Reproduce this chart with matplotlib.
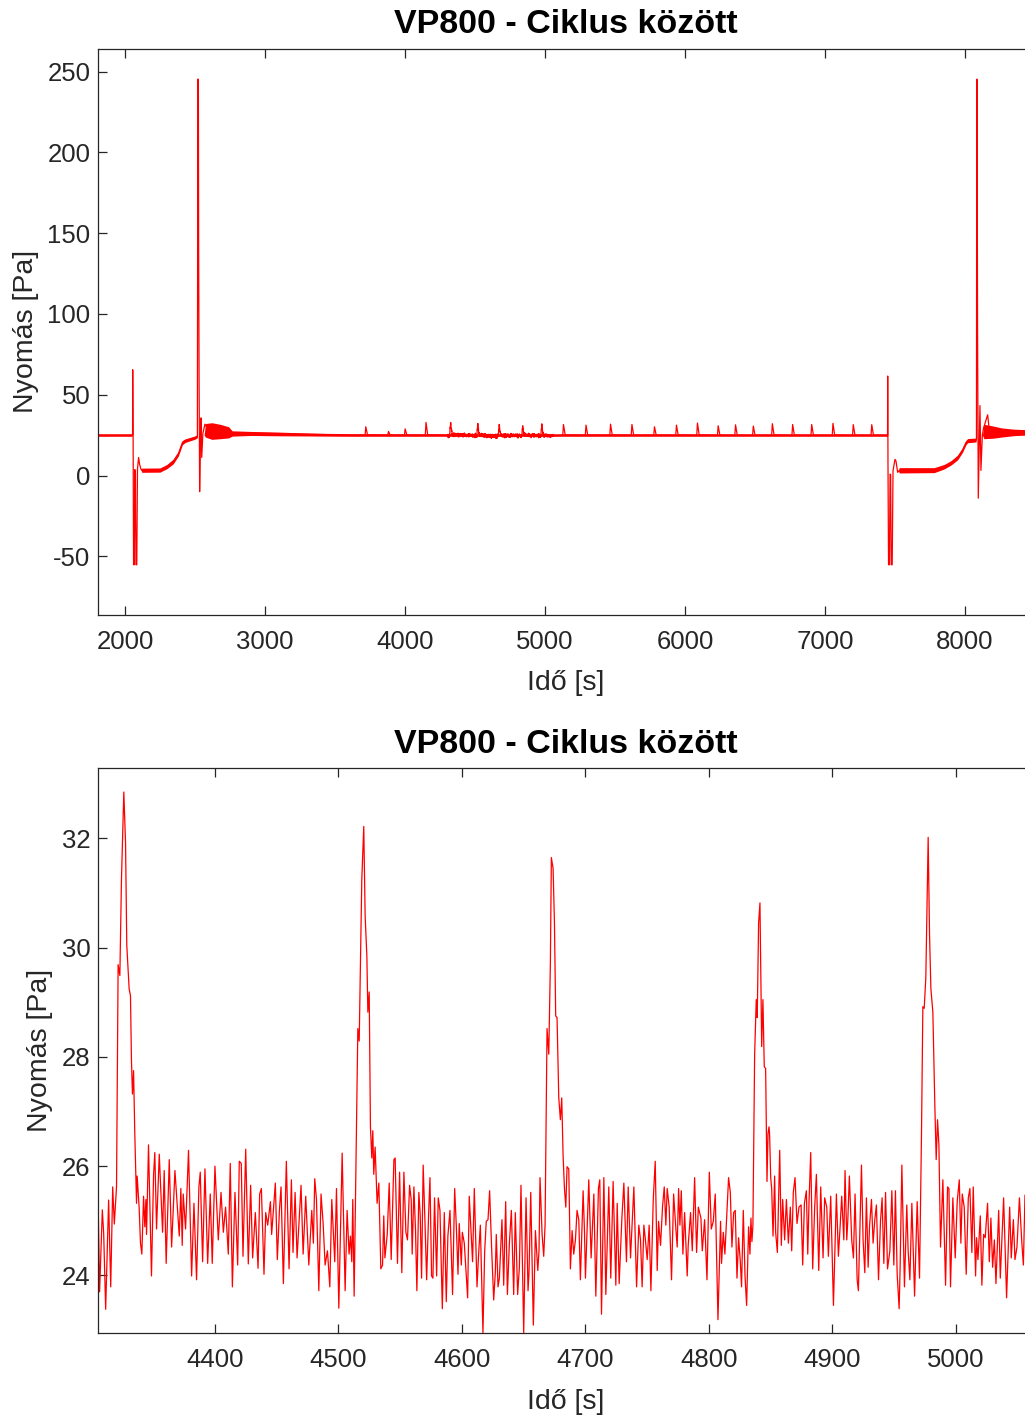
import numpy as np
import matplotlib
matplotlib.use('Agg')
import matplotlib.pyplot as plt

# --- Zoomed window 4305-5063 s: pressure samples (s, Pa) ---
zoom_t = [
    4305.3, 4306.6, 4308.8, 4309.9, 4311.5, 4313.9, 4315.6, 4317.2, 4318.5, 4320.3,
    4321.6, 4323.0, 4324.3, 4326.2, 4327.6, 4328.6, 4330.5, 4331.6, 4332.4, 4333.2,
    4334.1, 4335.1, 4336.5, 4337.0, 4338.6, 4339.7, 4340.8, 4342.2, 4343.2, 4344.1,
    4344.6, 4346.2, 4348.6, 4350.3, 4351.3, 4352.7, 4354.9, 4357.6, 4358.9, 4360.5,
    4363.0, 4364.9, 4367.6, 4371.1, 4372.4, 4373.5, 4374.3, 4376.2, 4378.6, 4381.1,
    4383.0, 4385.1, 4387.0, 4388.1, 4390.0, 4391.9, 4394.1, 4396.2, 4397.8, 4400.0,
    4402.7, 4404.9, 4406.8, 4408.6, 4410.8, 4412.4, 4414.1, 4416.2, 4418.4, 4419.7,
    4421.3, 4422.7, 4424.9, 4427.0, 4428.9, 4430.5, 4432.7, 4434.9, 4436.2, 4437.6,
    4439.7, 4441.1, 4442.7, 4444.9, 4445.9, 4447.6, 4448.9, 4450.5, 4452.2, 4453.5,
    4455.4, 4457.8, 4460.0, 4461.9, 4463.2, 4464.9, 4466.5, 4469.7, 4471.4, 4473.5,
    4476.0, 4478.4, 4479.7, 4480.8, 4482.2, 4484.1, 4485.9, 4487.6, 4489.2, 4491.1,
    4493.0, 4494.6, 4497.0, 4498.4, 4500.3, 4503.0, 4505.4, 4507.0, 4508.6, 4509.7,
    4510.8, 4511.6, 4512.7, 4515.7, 4516.8, 4518.9, 4520.5, 4521.6, 4523.0, 4523.8,
    4524.9, 4525.9, 4527.0, 4527.8, 4528.6, 4529.7, 4530.5, 4531.3, 4532.7, 4534.3,
    4535.7, 4536.7, 4537.6, 4539.5, 4541.1, 4542.7, 4544.9, 4545.9, 4547.8, 4549.5,
    4551.3, 4553.0, 4554.6, 4555.9, 4557.6, 4558.9, 4559.7, 4561.1, 4562.4, 4563.5,
    4565.1, 4566.2, 4567.3, 4568.6, 4570.0, 4571.4, 4573.0, 4574.1, 4575.4, 4576.5,
    4577.8, 4579.5, 4580.8, 4582.2, 4584.1, 4585.7, 4587.3, 4588.6, 4590.3, 4591.4,
    4592.4, 4594.1, 4595.4, 4596.8, 4597.8, 4599.5, 4600.3, 4601.9, 4604.6, 4605.9,
    4608.6, 4610.0, 4612.2, 4613.5, 4614.9, 4617.0, 4618.4, 4619.7, 4621.1, 4622.4,
    4624.1, 4625.7, 4627.0, 4627.8, 4629.2, 4630.3, 4632.4, 4633.8, 4635.4, 4636.8,
    4638.4, 4640.0, 4641.9, 4643.2, 4645.1, 4646.5, 4647.8, 4650.0, 4651.9, 4653.5,
    4654.3, 4655.7, 4657.8, 4659.5, 4661.4, 4662.4, 4663.2, 4664.9, 4666.2, 4667.3,
    4668.9, 4670.3, 4671.6, 4672.4, 4673.8, 4674.9, 4675.9, 4677.0, 4678.4, 4679.7,
    4680.8, 4681.9, 4683.0, 4684.1, 4685.1, 4686.5, 4687.8, 4689.2, 4690.5, 4691.9,
    4693.2, 4694.6, 4695.9, 4698.1, 4699.2, 4700.0, 4702.7, 4704.6, 4706.8, 4708.4,
    4710.5, 4711.6, 4713.0, 4714.9, 4716.5, 4718.9, 4720.5, 4722.4, 4724.6, 4725.7,
    4727.3, 4729.5, 4731.1, 4733.2, 4734.6, 4736.5, 4739.2, 4741.4, 4743.2, 4744.6,
    4745.9, 4747.3, 4748.4, 4750.0, 4751.6, 4753.0, 4754.9, 4756.5, 4758.1, 4759.2,
    4760.8, 4762.4, 4763.8, 4765.1, 4766.2, 4767.8, 4769.7, 4771.4, 4773.0, 4774.3,
    4775.4, 4776.5, 4777.6, 4778.9, 4780.3, 4782.4, 4783.2, 4785.1, 4786.5, 4788.4,
    4790.0, 4791.4, 4793.5, 4794.6, 4796.5, 4798.4, 4800.3, 4801.9, 4803.5, 4805.1,
    4807.3, 4809.4, 4810.2, 4811.6, 4812.9, 4815.9, 4817.3, 4818.6, 4820.0, 4821.3,
    4822.7, 4824.0, 4825.4, 4826.4, 4827.8, 4829.2, 4830.5, 4832.1, 4833.2, 4834.0,
    4834.8, 4835.6, 4837.0, 4838.3, 4839.1, 4840.2, 4841.3, 4842.7, 4843.7, 4844.8,
    4845.9, 4847.0, 4847.8, 4848.6, 4849.1, 4850.0, 4850.8, 4851.9, 4853.2, 4854.0,
    4855.4, 4857.3, 4858.6, 4859.7, 4861.3, 4862.7, 4864.3, 4865.9, 4867.0, 4868.3,
    4869.7, 4871.3, 4872.9, 4874.6, 4875.9, 4877.3, 4878.9, 4880.0, 4881.0, 4882.4,
    4884.0, 4885.6, 4887.0, 4888.9, 4890.5, 4892.4, 4893.7, 4895.4, 4896.7, 4898.6,
    4900.8, 4903.2, 4904.8, 4906.2, 4907.5, 4909.2, 4910.2, 4911.6, 4912.4, 4913.7,
    4915.6, 4917.0, 4918.3, 4920.0, 4921.0, 4923.5, 4924.8, 4926.2, 4927.5, 4928.9,
    4930.0, 4931.6, 4932.9, 4934.3, 4935.6, 4937.3, 4938.9, 4940.2, 4941.6, 4943.0,
    4944.6, 4946.5, 4948.1, 4949.7, 4951.0, 4952.4, 4954.0, 4954.8, 4956.2, 4958.3,
    4960.2, 4961.3, 4962.7, 4964.3, 4966.5, 4968.6, 4970.5, 4972.1, 4973.2, 4974.3,
    4975.6, 4976.7, 4977.5, 4978.6, 4979.7, 4981.3, 4982.9, 4984.0, 4985.1, 4986.2,
    4987.5, 4989.4, 4991.6, 4993.2, 4994.3, 4995.6, 4997.5, 4999.4, 5001.0, 5002.7,
    5004.0, 5005.1, 5006.7, 5008.3, 5010.0, 5011.3, 5012.9, 5014.0, 5015.9, 5016.7,
    5017.8, 5019.7, 5021.0, 5022.4, 5023.7, 5025.6, 5027.0, 5028.3, 5029.7, 5031.1,
    5032.4, 5034.6, 5035.9, 5038.6, 5041.0, 5043.5, 5044.8, 5046.5, 5047.8, 5049.4,
    5051.4, 5053.2, 5054.6, 5055.9, 5058.0, 5060.1, 5063.2,
]
zoom_p = [
    25.50, 23.70, 25.20, 24.77, 23.38, 25.38, 23.79, 25.62, 24.94, 25.62,
    29.69, 29.49, 31.25, 32.85, 31.92, 30.05, 29.25, 29.12, 27.92, 27.32,
    27.75, 26.59, 25.32, 25.82, 25.25, 24.59, 24.39, 25.45, 24.89, 25.39,
    24.75, 26.39, 23.99, 25.85, 26.25, 24.85, 26.22, 24.79, 25.92, 24.22,
    26.12, 24.52, 25.92, 24.72, 25.59, 24.55, 25.49, 24.85, 26.29, 23.99,
    25.32, 23.92, 25.62, 25.89, 24.25, 25.95, 24.22, 25.49, 24.22, 26.00,
    24.65, 25.52, 24.79, 25.25, 24.39, 26.05, 23.79, 25.52, 24.19, 26.09,
    26.05, 24.35, 26.31, 24.21, 25.65, 24.32, 25.15, 24.13, 25.49, 25.59,
    24.02, 25.15, 24.92, 25.35, 24.75, 25.29, 25.69, 24.29, 25.19, 25.62,
    23.85, 26.09, 24.12, 25.75, 24.42, 25.52, 24.32, 25.65, 24.39, 25.45,
    24.19, 25.19, 24.59, 25.77, 25.39, 23.72, 25.49, 24.95, 24.19, 24.45,
    23.79, 25.39, 24.25, 25.59, 23.40, 26.24, 23.72, 25.19, 24.39, 24.72,
    24.25, 25.39, 23.62, 28.52, 28.29, 31.25, 32.22, 30.59, 29.85, 28.82,
    29.19, 26.72, 26.15, 26.65, 25.85, 26.35, 25.82, 25.32, 25.69, 24.12,
    24.19, 25.09, 24.32, 24.75, 25.69, 24.29, 26.12, 26.15, 24.22, 25.89,
    24.05, 25.89, 24.79, 24.65, 25.65, 25.39, 24.39, 25.62, 24.82, 23.72,
    25.52, 25.12, 23.95, 26.02, 25.02, 23.92, 25.12, 25.79, 23.99, 23.95,
    25.42, 23.99, 25.42, 25.19, 23.39, 25.15, 23.52, 24.72, 25.19, 24.39,
    23.65, 25.59, 24.92, 24.02, 24.95, 24.19, 24.79, 24.59, 23.59, 25.45,
    24.25, 25.59, 23.79, 24.39, 24.92, 22.95, 24.45, 24.99, 25.02, 25.55,
    24.45, 23.55, 24.05, 24.75, 23.79, 23.95, 25.02, 23.82, 25.35, 23.65,
    24.59, 25.19, 23.65, 25.15, 23.65, 24.15, 25.65, 22.95, 25.42, 23.72,
    24.05, 25.52, 23.09, 24.82, 24.09, 24.45, 25.79, 24.75, 24.35, 24.92,
    28.52, 28.05, 29.72, 31.65, 31.45, 30.45, 28.75, 28.72, 27.25, 26.85,
    27.25, 26.19, 25.59, 25.25, 25.99, 25.95, 24.12, 24.82, 24.39, 24.65,
    25.19, 25.02, 23.92, 25.55, 24.82, 23.95, 25.75, 24.32, 25.49, 23.62,
    25.59, 25.75, 23.29, 25.79, 23.65, 25.62, 23.95, 25.72, 23.82, 25.32,
    23.85, 25.05, 25.69, 24.25, 25.62, 24.32, 25.62, 23.79, 24.92, 24.65,
    23.79, 24.92, 24.69, 24.29, 24.92, 23.72, 25.39, 26.09, 24.09, 24.99,
    24.55, 25.25, 25.62, 24.92, 25.59, 25.25, 23.92, 25.49, 24.92, 24.52,
    25.59, 24.92, 25.55, 24.39, 25.15, 23.99, 24.55, 25.15, 24.45, 25.79,
    24.42, 25.25, 25.05, 24.45, 25.02, 23.92, 25.89, 24.85, 24.99, 25.49,
    23.19, 24.99, 24.22, 24.79, 24.39, 25.79, 25.52, 24.52, 25.15, 25.19,
    23.95, 24.69, 24.25, 23.79, 25.19, 23.99, 23.45, 24.89, 24.39, 25.05,
    24.62, 24.92, 28.05, 29.05, 28.72, 30.45, 30.82, 28.19, 29.05, 27.82,
    27.79, 25.72, 26.59, 26.72, 26.59, 25.79, 25.59, 24.72, 25.82, 24.79,
    24.42, 26.29, 24.55, 25.39, 24.65, 25.39, 24.59, 25.25, 24.45, 25.52,
    25.79, 24.95, 25.25, 25.29, 24.19, 25.32, 25.55, 24.39, 25.32, 26.25,
    24.12, 25.25, 25.85, 24.09, 25.62, 24.32, 25.42, 25.25, 24.35, 25.45,
    23.45, 25.49, 24.35, 24.89, 25.45, 24.65, 25.92, 24.65, 24.99, 25.82,
    24.65, 24.32, 25.49, 23.92, 23.72, 26.02, 24.65, 24.05, 25.42, 24.15,
    24.89, 25.39, 24.59, 25.02, 25.29, 23.92, 24.99, 25.42, 24.22, 25.52,
    24.12, 24.45, 25.55, 24.19, 25.55, 24.02, 23.39, 24.15, 26.02, 23.79,
    25.29, 24.45, 23.92, 25.32, 23.62, 25.35, 23.95, 26.59, 28.92, 28.89,
    29.45, 30.92, 32.02, 30.25, 29.25, 28.82, 27.12, 26.12, 26.85, 26.39,
    24.52, 25.75, 23.82, 25.62, 25.59, 23.79, 25.42, 24.32, 25.35, 25.75,
    24.59, 25.49, 25.25, 24.02, 25.42, 25.59, 24.42, 25.62, 23.99, 24.69,
    24.29, 25.09, 23.82, 24.75, 24.69, 25.32, 24.25, 25.05, 24.15, 24.65,
    23.85, 25.19, 23.95, 25.42, 23.59, 25.25, 24.32, 25.02, 24.29, 24.52,
    25.42, 24.65, 24.19, 25.47, 24.30, 25.30, 24.60,
]

# --- Full record outside the zoomed window: trace key points (s, Pa) ---
pre_t = [
    1807, 2050, 2054, 2055, 2057, 2058, 2061, 2066, 2070, 2074,
    2078, 2084, 2089, 2097, 2104, 2113, 2120, 2250, 2300, 2345,
    2381, 2410, 2430, 2500, 2517, 2520, 2524, 2526, 2529, 2533,
    2538, 2543, 2548, 2556, 2571, 2600, 2700, 2760, 3200, 3500,
    3715, 3720, 3732, 3877, 3882, 3894, 3996, 4001, 4013, 4145,
    4150, 4162, 4300,
]
pre_p = [
    25.0, 25.0, 25.3, 65.5, 30.0, 20.0, -55.2, -55.2, 3.7, 2.5,
    -55.2, -55.2, 4.0, 11.2, 7.0, 4.2, 3.2, 3.3, 5.6, 8.8,
    13.5, 20.4, 21.6, 23.5, 24.3, 245.3, 245.3, 138.0, 60.0, -10.0,
    18.0, 35.7, 11.2, 26.0, 31.8, 27.5, 27.0, 26.4, 25.8, 25.2,
    25.0, 30.2, 25.2, 25.0, 27.3, 25.1, 25.0, 28.9, 25.1, 25.0,
    32.9, 25.2, 25.0,
]
post_t = [
    5127, 5132, 5144, 5288, 5293, 5305, 5463, 5468, 5480, 5616,
    5621, 5633, 5777, 5782, 5794, 5934, 5939, 5951, 6084, 6089,
    6101, 6232, 6237, 6249, 6356, 6361, 6373, 6483, 6488, 6500,
    6619, 6624, 6636, 6764, 6769, 6781, 6900, 6905, 6917, 7052,
    7057, 7069, 7197, 7202, 7214, 7329, 7334, 7346, 7443, 7447,
    7448, 7449, 7450, 7454, 7460, 7465, 7469, 7473, 7480, 7486,
    7500, 7507, 7519, 7530, 7781, 7852, 7900, 7948, 7983, 8007,
    8019, 8067, 8079, 8082, 8084, 8086, 8088, 8090, 8095, 8100,
    8107, 8114, 8124, 8133, 8162, 8175, 8300, 8493,
]
post_p = [
    25.0, 31.6, 25.2, 25.0, 31.2, 25.1, 25.0, 31.8, 25.2, 25.0,
    31.6, 25.1, 25.0, 30.2, 25.1, 25.0, 31.2, 25.2, 25.0, 32.5,
    25.2, 25.0, 30.8, 25.1, 25.0, 31.4, 25.1, 25.0, 30.6, 25.1,
    25.0, 32.1, 25.2, 25.0, 31.6, 25.1, 25.0, 31.6, 25.1, 25.0,
    32.3, 25.2, 25.0, 31.5, 25.1, 25.0, 31.5, 25.1, 25.0, 24.5,
    61.6, 30.0, 7.8, -55.2, -55.2, 0.9, 0.5, -55.2, -55.2, 3.0,
    10.0, 9.0, 2.0, 3.2, 3.3, 5.5, 7.8, 11.2, 15.8, 20.4,
    21.5, 21.3, 22.0, 23.0, 245.3, 245.3, 147.5, 86.8, -14.0, 10.0,
    43.3, 3.2, 25.0, 29.5, 37.6, 27.0, 26.8, 26.6,
]

# min/max envelope of the dense noise band (s, Pa)
env_t = [
    1807, 2050, 2052, 2112, 2120, 2250, 2300, 2345, 2381, 2410,
    2430, 2500, 2516, 2518, 2565, 2575, 2620, 2680, 2740, 2765,
    2900, 3100, 3300, 3600, 7440, 7442, 7525, 7530, 7780, 7852,
    7900, 7948, 7983, 8007, 8019, 8079, 8081, 8125, 8135, 8200,
    8260, 8350, 8493,
]
env_lo = [
    24.3, 24.3, 25.0, 4.0, 2.0, 2.1, 4.3, 7.3, 12.1, 19.1,
    20.5, 22.5, 23.4, 24.3, 25.0, 23.8, 22.4, 22.8, 23.3, 24.4,
    24.8, 24.6, 24.5, 24.3, 24.3, 25.0, 3.0, 1.6, 1.8, 4.1,
    6.5, 9.8, 14.5, 19.1, 20.3, 20.8, 22.0, 25.0, 22.8, 23.1,
    23.8, 24.7, 25.2,
]
env_hi = [
    25.8, 25.8, 25.0, 4.0, 4.6, 4.7, 6.9, 10.2, 14.9, 21.7,
    22.7, 24.5, 25.3, 24.3, 25.0, 32.2, 32.7, 31.7, 30.2, 27.7,
    27.3, 26.9, 26.3, 25.9, 25.8, 25.0, 3.0, 4.9, 4.9, 6.9,
    9.2, 12.7, 17.2, 21.7, 22.9, 23.2, 22.0, 25.0, 31.7, 30.7,
    29.5, 28.7, 28.2,
]

TITLE = 'VP800 - Ciklus között'
XLABEL = 'Idő [s]'
YLABEL = 'Nyomás [Pa]'
top_xticks = [2000, 3000, 4000, 5000, 6000, 7000, 8000]
top_yticks = [-50, 0, 50, 100, 150, 200, 250]
bot_xticks = [4400, 4500, 4600, 4700, 4800, 4900, 5000]
bot_yticks = [24, 26, 28, 30, 32]

plt.rcParams['font.family'] = ['Liberation Sans', 'DejaVu Sans']
plt.rcParams['axes.unicode_minus'] = False

AX_COLOR = '#262626'
RED = '#ff0000'


def style_axes(ax):
    for sp in ax.spines.values():
        sp.set_color(AX_COLOR)
        sp.set_linewidth(0.9)
    ax.tick_params(axis='both', direction='in', top=True, right=True,
                   length=6.8, width=0.9, color=AX_COLOR,
                   labelcolor=AX_COLOR, labelsize=18.5)
    ax.tick_params(axis='x', pad=10.5)
    ax.tick_params(axis='y', pad=5.5)
    ax.set_title(TITLE, fontsize=24.5, fontweight='bold', pad=11, color='black')
    ax.set_xlabel(XLABEL, fontsize=20.5, color=AX_COLOR, labelpad=12)
    ax.set_ylabel(YLABEL, fontsize=20.5, color=AX_COLOR, labelpad=6)


fig = plt.figure(figsize=(10.25, 14.16), dpi=100)
W, H = 1025.0, 1416.0
ax1 = fig.add_axes([98 / W, 1 - 615 / H, 936 / W, 566.5 / H])
ax2 = fig.add_axes([98 / W, 1 - 1333.3 / H, 936 / W, 565.3 / H])

# full record: noise envelope + trace
full_t = np.concatenate([pre_t, zoom_t, post_t])
full_p = np.concatenate([pre_p, zoom_p, post_p])
ax1.fill_between(env_t, env_lo, env_hi, color=RED, linewidth=0)
ax1.plot(full_t, full_p, color=RED, linewidth=0.9)
ax1.set_xlim(1807, 8493)
ax1.set_ylim(-86.3, 264.3)
ax1.set_xticks(top_xticks)
ax1.set_yticks(top_yticks)
style_axes(ax1)

# zoomed window
ax2.plot(zoom_t, zoom_p, color=RED, linewidth=0.9)
ax2.set_xlim(4305.3, 5063.2)
ax2.set_ylim(22.94, 33.29)
ax2.set_xticks(bot_xticks)
ax2.set_yticks(bot_yticks)
style_axes(ax2)

fig.savefig('out.png', dpi=100)
